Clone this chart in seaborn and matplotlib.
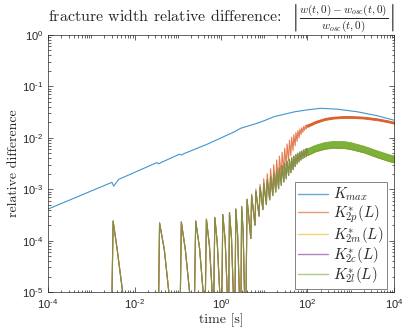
import numpy as np
import pandas as pd
import matplotlib
matplotlib.use("Agg")
import matplotlib.pyplot as plt
import seaborn as sb
from matplotlib.font_manager import FontProperties
from matplotlib.ticker import FixedLocator, LogLocator, NullFormatter, FuncFormatter

# K_max curve
kmax_t = [1e-4, 3.0e-3, 3.3e-3, 4.3e-3, 0.033, 0.036, 0.041, 0.11, 0.12, 0.13, 0.48, 2.0,
          2.85, 8.0, 17, 50, 100, 204, 500, 1450, 4000, 1e4]
kmax_v = [4.1e-4, 1.36e-3, 1.15e-3, 1.55e-3, 3.3e-3, 3.1e-3, 3.3e-3, 4.8e-3, 4.6e-3, 4.8e-3,
          7.5e-3, 0.013, 0.0153, 0.020, 0.0258, 0.032, 0.035, 0.0375, 0.036, 0.032, 0.027, 0.022]

# isolated spikes shared by the K2* curves (early times)
spike_rise = [2.9e-3, 0.035, 0.111, 0.235, 0.42, 0.66, 1.02, 1.48, 2.07, 2.85]
spike_t = [3.2e-3, 0.038, 0.121, 0.26, 0.46, 0.72, 1.1, 1.57, 2.2, 3.0]
spike_v = [2.4e-4, 2.2e-4, 2.3e-4, 2.4e-4, 2.6e-4, 2.8e-4, 3.2e-4, 3.5e-4, 4.1e-4, 4.6e-4]
spike_mid_t = [3.9e-3, 0.049, 0.15, 0.32, 0.54, 0.82, 1.25, 1.75, 2.42, 3.25]
spike_mid_v = [7.6e-5, 6.6e-5, 6.6e-5, 7e-5, 8e-5, 9e-5, 1.0e-4, 1.1e-4, 1.3e-4, 1.5e-4]
spike_end = [5.4e-3, 0.063, 0.19, 0.39, 0.63, 0.94, 1.4, 1.93, 2.66, 3.5]
dense_start = 3.7

# dense oscillation cycles
cycle_t = [4.0, 5.1, 6.4, 8.0, 9.7, 11.7, 14.0, 16.5, 19.3, 22.4, 25.9, 29.6, 33.7, 38.2,
           43.1, 48.3, 54, 60, 66.6, 73.6, 81, 89, 97]
trough_t = [4.9, 6.1, 7.6, 9.3, 11.2, 13.4, 15.8, 18.5, 21.5, 24.8, 28.4, 32.3, 36.6, 41.3,
            46.4, 51.8, 57.6, 64, 70.8, 78.2, 86, 94.5, 100]
green_peak = [6.3e-4, 7.6e-4, 9.0e-4, 1.08e-3, 1.28e-3, 1.5e-3, 1.75e-3, 2.0e-3, 2.3e-3, 2.6e-3,
              2.9e-3, 3.2e-3, 3.5e-3, 3.8e-3, 4.1e-3, 4.4e-3, 4.7e-3, 5.0e-3, 5.3e-3, 5.5e-3,
              5.8e-3, 6.0e-3, 6.2e-3]
green_trough = [1.1e-4, 2.0e-4, 3.0e-4, 4.0e-4, 5.0e-4, 6.2e-4, 7.5e-4, 8.8e-4, 1.02e-3, 1.18e-3,
                1.38e-3, 1.6e-3, 1.85e-3, 2.1e-3, 2.4e-3, 2.75e-3, 3.1e-3, 3.4e-3, 3.7e-3,
                3.95e-3, 4.15e-3, 4.3e-3, 4.6e-3]
orange_peak = [6.4e-4, 8e-4, 1.0e-3, 1.25e-3, 1.6e-3, 2.0e-3, 2.5e-3, 3.0e-3, 3.7e-3, 4.4e-3,
               5.2e-3, 6.3e-3, 7.6e-3, 9.0e-3, 0.0103, 0.0115, 0.0127, 0.0138, 0.0148, 0.0157,
               0.0165, 0.0173, 0.018]
orange_trough = [1.1e-4, 2.0e-4, 3.0e-4, 4.1e-4, 5.3e-4, 6.8e-4, 8.6e-4, 1.1e-3, 1.4e-3, 1.8e-3,
                 2.3e-3, 2.9e-3, 3.6e-3, 4.5e-3, 5.6e-3, 7.0e-3, 8.5e-3, 0.0100, 0.0115, 0.0128,
                 0.0140, 0.0150, 0.0163]

# late-time bands (oscillations too dense to resolve)
band_t = [100, 150, 250, 400, 700, 1000, 2000, 4000, 7000, 1e4]
green_hi = [6.3e-3, 7.3e-3, 8.3e-3, 8.7e-3, 8.6e-3, 8.2e-3, 7.0e-3, 5.7e-3, 4.9e-3, 4.5e-3]
green_lo = [4.6e-3, 5.4e-3, 6.1e-3, 6.4e-3, 6.3e-3, 6.0e-3, 5.2e-3, 4.2e-3, 3.6e-3, 3.3e-3]
orange_hi = [0.0182, 0.0212, 0.0243, 0.0258, 0.0265, 0.0265, 0.0258, 0.0240, 0.0220, 0.0205]
orange_lo = [0.0163, 0.0192, 0.0222, 0.0237, 0.0244, 0.0244, 0.0237, 0.0220, 0.0202, 0.0188]

labels = [r'$K_{max}$', r'$K^{*}_{2p}(L)$', r'$K^{*}_{2m}(L)$', r'$K^{*}_{2c}(L)$', r'$K^{*}_{2l}(L)$']
colors = ['#0072BD', '#D95319', '#EDB120', '#7E2F8E', '#77AC30']

floor = 1e-6


def osc_path(peaks, troughs):
    t, v = [], []
    for r, pt, pv, mt, mv, e in zip(spike_rise, spike_t, spike_v, spike_mid_t, spike_mid_v, spike_end):
        t += [r, pt, mt, e]
        v += [floor, pv, mv, 9e-6]
    t.append(dense_start)
    v.append(floor)
    for pt, pv, tt, tv in zip(cycle_t, peaks, trough_t, troughs):
        t += [pt, tt]
        v += [pv, tv]
    return t, v


frames = [pd.DataFrame({'t': kmax_t, 'v': kmax_v, 'series': labels[0]})]
ot, ov = osc_path(orange_peak, orange_trough)
frames.append(pd.DataFrame({'t': ot, 'v': ov, 'series': labels[1]}))
gt, gv = osc_path(green_peak, green_trough)
for lab in labels[2:]:
    frames.append(pd.DataFrame({'t': gt, 'v': gv, 'series': lab}))
df = pd.concat(frames, ignore_index=True)

sb.set_style('ticks')
plt.rcParams['mathtext.fontset'] = 'custom'
plt.rcParams['mathtext.rm'] = 'Liberation Sans'
plt.rcParams['mathtext.it'] = 'Liberation Sans:italic'
plt.rcParams['font.family'] = ['Liberation Sans', 'DejaVu Sans']

fig = plt.figure(figsize=(4.05, 3.34), dpi=100)
ax = fig.add_axes([48 / 405, 1 - 292 / 334, 346 / 405, 257 / 334])
ax.set_xscale('log')
ax.set_yscale('log')

sb.lineplot(data=df, x='t', y='v', hue='series', hue_order=labels, palette=dict(zip(labels, colors)),
            estimator=None, sort=False, lw=0.8, alpha=0.75, ax=ax)

# dense late-time bands
ax.fill_between(band_t, orange_lo, orange_hi, color=colors[1], lw=0.6, alpha=0.9, zorder=2.2)
ax.plot(band_t, green_lo, color=colors[2], lw=1.0, zorder=2.3)
ax.plot(band_t, green_lo, color=colors[3], lw=0.6, alpha=0.7, zorder=2.3)
ax.fill_between(band_t, green_lo, green_hi, color=colors[4], lw=0.6, alpha=0.95, zorder=2.5)


def exp_label(x, pos):
    e = int(round(np.log10(x)))
    if e < 0:
        return r'$10^{\text{-}%d}$' % (-e)
    return r'$10^{%d}$' % e


ax.set_xlim(1e-4, 1e4)
ax.set_ylim(1e-5, 1)
ax.xaxis.set_major_locator(FixedLocator([1e-4, 1e-2, 1, 1e2, 1e4]))
ax.xaxis.set_minor_locator(LogLocator(base=10, subs=np.arange(1, 10), numticks=50))
ax.yaxis.set_major_locator(LogLocator(base=10, numticks=20))
ax.yaxis.set_minor_locator(LogLocator(base=10, subs=np.arange(2, 10), numticks=50))
ax.xaxis.set_major_formatter(FuncFormatter(exp_label))
ax.yaxis.set_major_formatter(FuncFormatter(exp_label))
ax.xaxis.set_minor_formatter(NullFormatter())
ax.yaxis.set_minor_formatter(NullFormatter())
ax.tick_params(which='both', direction='in', top=True, right=True, colors='0.15', width=0.5,
               labelsize=8)
ax.tick_params(which='major', length=3.5)
ax.tick_params(which='minor', length=1.8)
for s in ax.spines.values():
    s.set_linewidth(0.5)
    s.set_color('0.15')

ax.set_title(r'fracture width relative difference:  '
             r'$\left|\frac{w(t,0)-w_{osc}(t,0)}{w_{osc}(t,0)}\right|$',
             fontsize=11.5, family='cmr10', math_fontfamily='cm', pad=3)
ax.set_xlabel('time [s]', fontsize=10, family='cmr10', labelpad=2)
ax.set_ylabel('relative difference', fontsize=10, family='cmr10', labelpad=1.5)

handles, _ = ax.get_legend_handles_labels()
leg = ax.legend(handles, labels, loc='lower right', bbox_to_anchor=(0.98, 0.012), borderaxespad=0,
                prop=FontProperties(size=10.8, math_fontfamily='cm'), frameon=True, fancybox=False,
                edgecolor='0.15', handlelength=2.0, labelspacing=0.0, borderpad=0.25,
                handletextpad=0.3)
leg.get_frame().set_linewidth(0.5)
for h in leg.get_lines():
    h.set_alpha(0.6)
    h.set_linewidth(1.0)

fig.savefig('out.png', dpi=100)
